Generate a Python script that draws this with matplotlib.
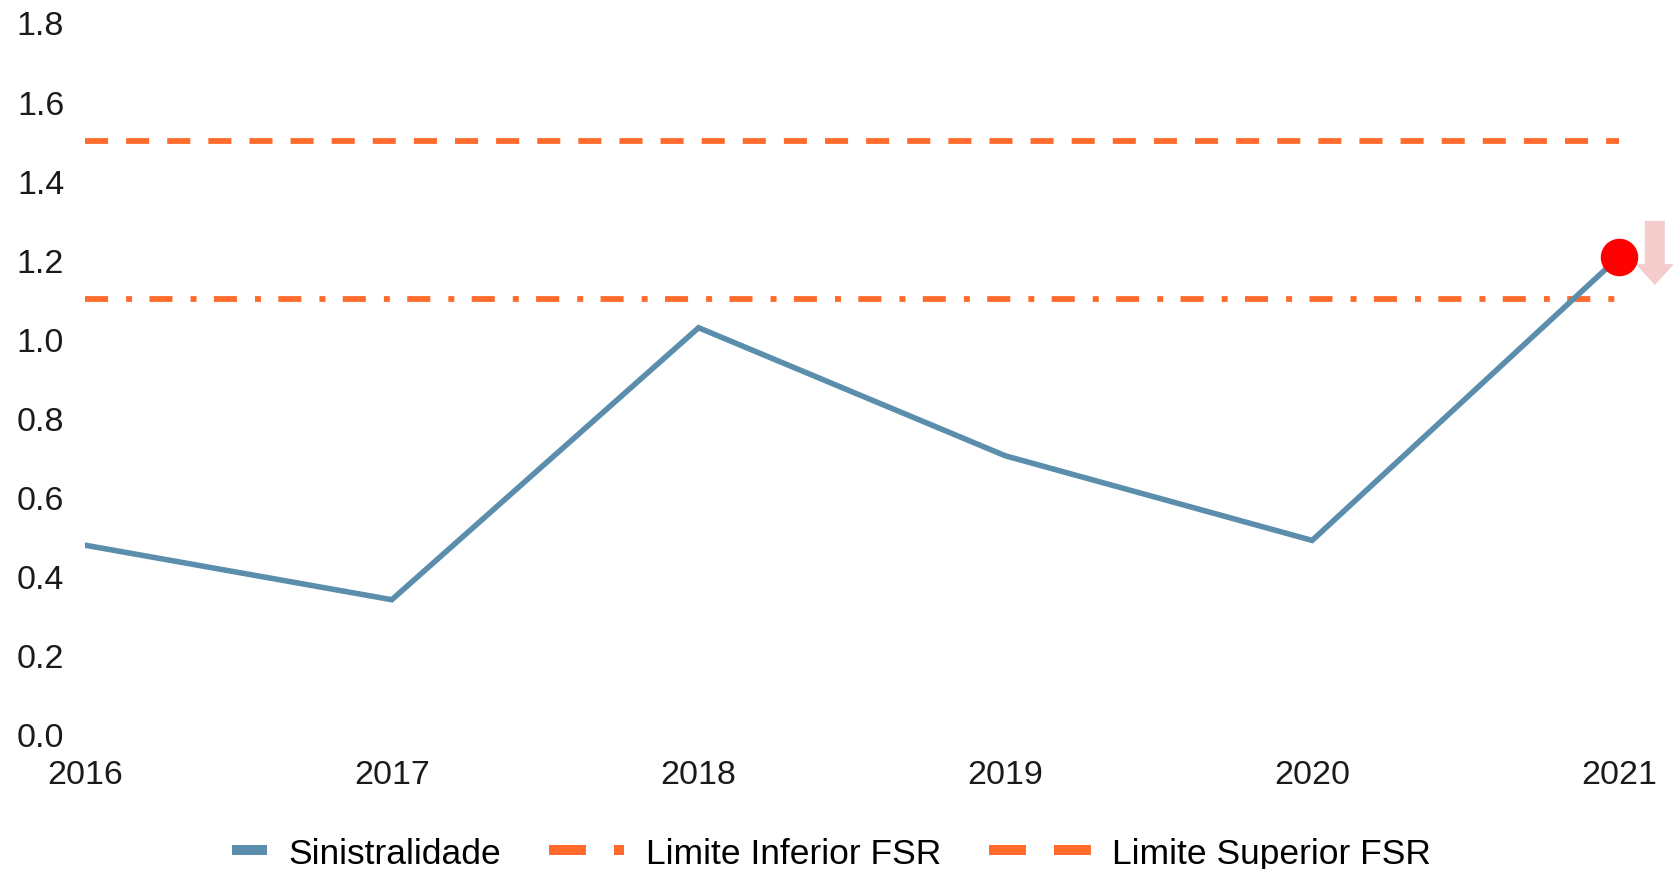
import numpy as np
import matplotlib
matplotlib.use("Agg")
import matplotlib.pyplot as plt
from matplotlib.lines import Line2D
from matplotlib.patches import FancyArrow

plt.rcParams['font.family'] = ['Liberation Sans', 'DejaVu Sans']
plt.rcParams['lines.scale_dashes'] = False

years = [2016, 2017, 2018, 2019, 2020, 2021]
sinistralidade = [0.478, 0.34, 1.028, 0.704, 0.49, 1.207]
limite_inferior = [1.1] * len(years)
limite_superior = [1.5] * len(years)
labels = ['Sinistralidade', 'Limite Inferior FSR', 'Limite Superior FSR']

blue = '#5A8EAC'
orange = '#FF6B2C'

fig = plt.figure(figsize=(16.73, 8.7), dpi=100)
ax = fig.add_axes([0.0508, 0.155, 0.9169, 0.818])

# main series and FSR limits
ax.plot(years, sinistralidade, color=blue, lw=4.0, solid_joinstyle='miter', zorder=3)
ax.plot(years, limite_inferior, color=orange, lw=4.2,
        linestyle=(0, (16.6, 13.0, 4.3, 12.5)), zorder=2)
ax.plot(years, limite_superior, color=orange, lw=4.2,
        linestyle=(0, (16.6, 13.0)), zorder=2)

# highlight last value with a downward arrow
x_last, y_last = years[-1], sinistralidade[-1]
ax.plot([x_last], [y_last], 'o', color='#FF0000', ms=26, clip_on=False, zorder=5)
arrow = FancyArrow(x_last + 0.117, y_last + 0.091, 0, -0.162, width=0.065,
                   head_width=0.124, head_length=0.053, length_includes_head=True,
                   color='#F4CCCC', lw=0, clip_on=False, zorder=4)
ax.add_patch(arrow)

ax.set_xlim(years[0], years[-1])
ax.set_ylim(0, 1.8)
ax.set_xticks(years)
ax.set_xticklabels([str(y) for y in years])
ax.set_yticks(np.arange(0, 1.81, 0.2))
ax.set_yticklabels([f"{v:.1f}" for v in np.arange(0, 1.81, 0.2)])
ax.tick_params(axis='y', length=0, pad=15, labelsize=24.5, labelcolor='#1a1a1a')
ax.tick_params(axis='x', length=0, pad=18, labelsize=24.5, labelcolor='#1a1a1a')
for s in ax.spines.values():
    s.set_visible(False)

# legend: one entry per legend so each handle keeps its own length
handles = [
    Line2D([], [], color=blue, lw=7.2, solid_capstyle='butt'),
    Line2D([], [], color=orange, lw=7.2, linestyle=(0, (26.6, 20.2, 7.2, 40))),
    Line2D([], [], color=orange, lw=7.2, linestyle=(0, (26.6, 20.2))),
]
handle_lengths = [1.0, 2.12, 2.88]

x = 232 / fig.bbox.width
for h, lab, hl in zip(handles, labels, handle_lengths):
    leg = fig.legend([h], [lab], loc='center left', bbox_to_anchor=(x, 0.018),
                     frameon=False, fontsize=25.5, handlelength=hl,
                     handletextpad=0.6, borderpad=0, borderaxespad=0)
    fig.canvas.draw()
    bb = leg.get_window_extent()
    x = (bb.x1 + 48) / fig.bbox.width

fig.savefig('out.png', dpi=100)
